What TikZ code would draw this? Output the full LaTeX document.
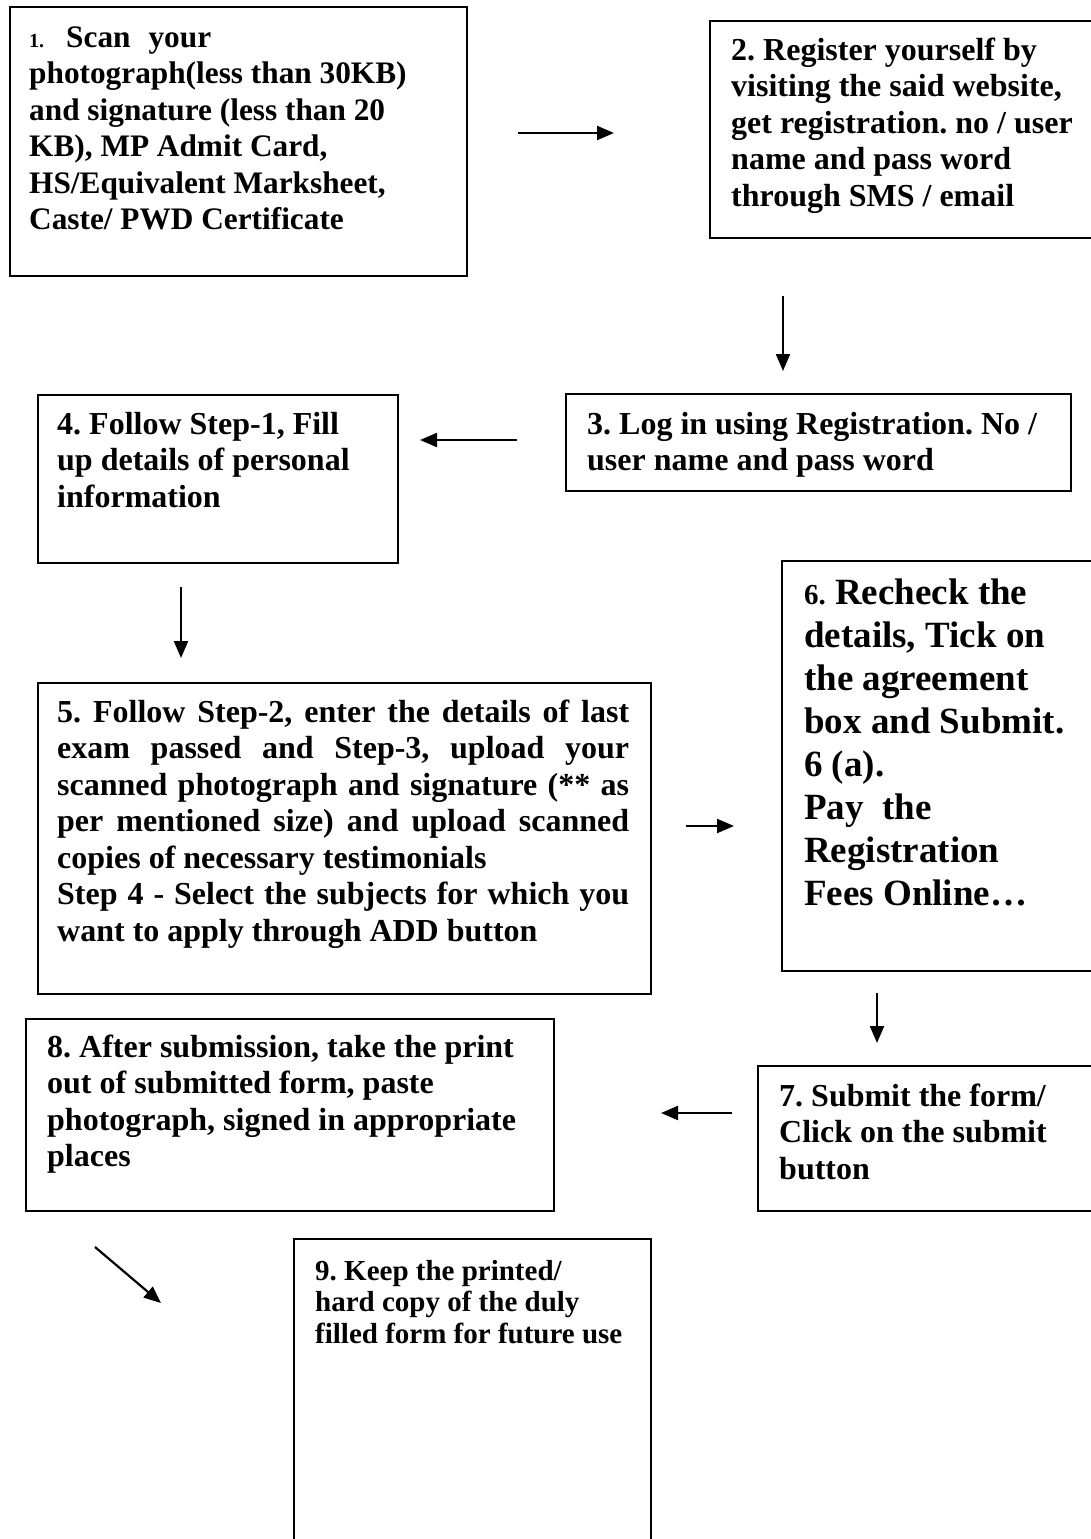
\documentclass[tikz,border=0pt]{standalone}
\usepackage{fontspec}
\setmainfont{Liberation Serif}
\usetikzlibrary{arrows.meta}
\frenchspacing
\begin{document}
\begin{tikzpicture}[x=1pt,y=-1pt,
  boxsty/.style={draw, line width=1.6pt, anchor=north west, inner sep=0pt},
  txt/.style={anchor=base west, inner sep=0pt, font=\frenchspacing\bfseries\fontsize{32}{36.5}\selectfont},
  arr/.style={line width=2.2pt, -{Triangle[length=17pt,width=14pt]}}]
\useasboundingbox (0,0) rectangle (1090,1539);
% boxes
\node[boxsty, minimum width=457pt, minimum height=269pt] (b1) at (9,6) {};
\node[boxsty, minimum width=400pt, minimum height=217pt] (b2) at (709,20) {};
\node[boxsty, minimum width=505pt, minimum height=97pt] (b3) at (565,393) {};
\node[boxsty, minimum width=360pt, minimum height=168pt] (b4) at (37,394) {};
\node[boxsty, minimum width=613pt, minimum height=311pt] (b5) at (37,682) {};
\node[boxsty, minimum width=330pt, minimum height=410pt] (b6) at (781,560) {};
\node[boxsty, minimum width=350pt, minimum height=145pt] (b7) at (757,1065) {};
\node[boxsty, minimum width=528pt, minimum height=192pt] (b8) at (25,1018) {};
\node[boxsty, minimum width=357pt, minimum height=340pt] (b9) at (293,1238) {};
% texts
\node[txt, font=\frenchspacing\bfseries\fontsize{31.3}{36.5}\selectfont] (t1) at (29,47) {\parbox[t]{430pt}{\raggedright{\fontsize{20}{20}\selectfont 1.}\hspace{22pt}Scan\hspace{18pt}your\\
photograph(less than 30KB)\\
and signature (less than 20\\
KB), MP Admit Card,\\
HS/Equivalent Marksheet,\\
Caste/ PWD Certificate}};
\node[txt] (t2) at (731,60) {\parbox[t]{360pt}{\raggedright 2. Register yourself by\\
visiting the said website,\\
get registration. no / user\\
name and pass word\\
through SMS / email}};
\node[txt] (t3) at (587,434) {\parbox[t]{480pt}{\raggedright 3. Log in using Registration. No /\\
user name and pass word}};
\node[txt] (t4) at (57,434) {\parbox[t]{335pt}{\raggedright 4. Follow Step-1, Fill\\
up details of personal\\
information}};
\node[txt] (t5) at (57,722) {\parbox[t]{572pt}{5. Follow Step-2, enter the details of last\linebreak
exam passed and Step-3, upload your\linebreak
scanned photograph and signature (** as\linebreak
per mentioned size) and upload scanned\linebreak
copies of necessary testimonials\newline
Step 4 - Select the subjects for which you\linebreak
want to apply through ADD button}};
\node[txt, font=\frenchspacing\bfseries\fontsize{37}{43}\selectfont] (t6) at (804,604) {\parbox[t]{300pt}{\raggedright{\fontsize{29}{29}\selectfont 6.} Recheck the\\
details, Tick on\\
the agreement\\
box and Submit.\\
6 (a).\\
Pay\ \ the\\
Registration\\
Fees Online…}};
\node[txt] (t7) at (779,1106) {\parbox[t]{310pt}{\raggedright 7. Submit the form/\\
Click on the submit\\
button}};
\node[txt] (t8) at (47,1057) {\parbox[t]{500pt}{\raggedright 8. After submission, take the print\\
out of submitted form, paste\\
photograph, signed in appropriate\\
places}};
\node[txt, font=\frenchspacing\bfseries\fontsize{29}{31.5}\selectfont] (t9) at (315,1280) {\parbox[t]{330pt}{\raggedright 9. Keep the printed/\\
hard copy of the duly\\
filled form for future use}};
% arrow ends
\coordinate (a1s) at (518,133); \coordinate (a1e) at (614,133);
\coordinate (a2s) at (783,296); \coordinate (a2e) at (783,371);
\coordinate (a3s) at (517,440); \coordinate (a3e) at (420,440);
\coordinate (a4s) at (181,587); \coordinate (a4e) at (181,658);
\coordinate (a5s) at (686,826); \coordinate (a5e) at (734,826);
\coordinate (a6s) at (877,993); \coordinate (a6e) at (877,1043);
\coordinate (a7s) at (732,1113); \coordinate (a7e) at (661,1113);
\coordinate (a8s) at (95,1247); \coordinate (a8e) at (161,1303);
\draw[arr] (a1s) -- (a1e);
\draw[arr] (a2s) -- (a2e);
\draw[arr] (a3s) -- (a3e);
\draw[arr] (a4s) -- (a4e);
\draw[arr] (a5s) -- (a5e);
\draw[arr] (a6s) -- (a6e);
\draw[arr] (a7s) -- (a7e);
\draw[arr] (a8s) -- (a8e);
\end{tikzpicture}
\end{document}
